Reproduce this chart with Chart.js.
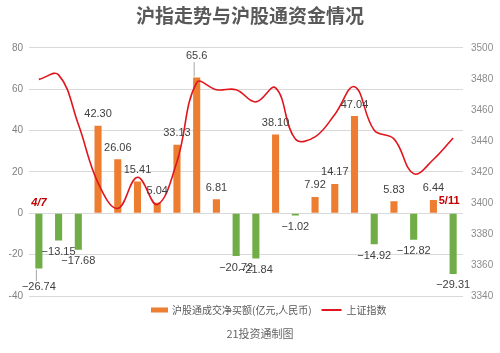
<!DOCTYPE html>
<html>
<head>
<meta charset="utf-8">
<script src="https://cdn.jsdelivr.net/npm/chart.js@4/dist/chart.umd.min.js"></script>
<style>
html, body { margin: 0; padding: 0; background: #fff; }
</style>
</head>
<body>
<canvas id="chart" width="500" height="353"></canvas>
<script>
// trading days, 2021-04-07 .. 2021-05-11
const dates = ['4/7', '4/8', '4/9', '4/12', '4/13', '4/14', '4/15', '4/16', '4/19', '4/20', '4/21',
    '4/22', '4/23', '4/26', '4/27', '4/28', '4/29', '4/30', '5/6', '5/7', '5/10', '5/11'];

// 沪股通成交净买额 (亿元), kept as text so the labels keep their decimals
const netBuyText = ['-26.74', '-13.15', '-17.68', '42.30', '26.06', '15.41', '5.04', '33.13', '65.6', '6.81', '-20.72',
    '-21.84', '38.10', '-1.02', '7.92', '14.17', '47.04', '-14.92', '5.83', '-12.82', '6.44', '-29.31'];
const netBuy = netBuyText.map(Number);

// 上证指数 close
const shIndex = [3479.63, 3482.55, 3450.68, 3412.95, 3396.47, 3416.55, 3398.99, 3426.62, 3477.55, 3472.93, 3472.94,
    3465.11, 3474.17, 3441.17, 3442.61, 3457.07, 3474.90, 3446.86, 3441.28, 3418.87, 3427.99, 3441.85];

const leftRange = [-40, 80];
const rightRange = [3340, 3500];

const seriesNames = ['沪股通成交净买额(亿元,人民币)', '上证指数'];
const footerText = '21投资通制图';

const ORANGE = '#ED7D31';
const GREEN = '#70AD47';
const RED = '#E0161E';
const CJK = "'Noto Sans CJK SC', sans-serif";

// Value labels on the bars, plus the two date marks
const barLabels = {
    id: 'barLabels',
    afterDatasetsDraw(chart) {
        const ctx = chart.ctx;
        const meta = chart.getDatasetMeta(0);
        const zeroY = chart.scales.y.getPixelForValue(0);
        ctx.save();
        ctx.font = "11px 'Liberation Sans', Arial, sans-serif";
        ctx.textAlign = 'center';
        ctx.textBaseline = 'middle';
        meta.data.forEach((bar, i) => {
            const v = netBuy[i];
            const txt = netBuyText[i].replace('-', '\u2212');
            let y = v < 0 ? bar.y + 11.5 : bar.y - 11.5;
            // a couple of labels are pushed away with a leader line
            let lead = 0;
            if (i === 0) lead = 7;
            if (i === 8) lead = -10;
            if (lead) {
                y += lead;
                ctx.strokeStyle = '#a6a6a6';
                ctx.lineWidth = 1;
                ctx.beginPath();
                ctx.moveTo(bar.x - 2.5, v < 0 ? bar.y + 1 : bar.y - 1);
                ctx.lineTo(bar.x - 2.5, v < 0 ? y - 6 : y + 6);
                ctx.stroke();
            }
            ctx.fillStyle = '#404040';
            ctx.fillText(txt, bar.x, y);
        });

        // first and last date
        ctx.fillStyle = '#C00000';
        ctx.font = "italic bold 11px 'Liberation Sans', Arial, sans-serif";
        const first = meta.data[0];
        ctx.fillText(dates[0], first.x, zeroY - 10);
        ctx.font = "bold 11px 'Liberation Sans', Arial, sans-serif";
        const last = meta.data[meta.data.length - 1];
        ctx.fillText(dates[dates.length - 1], last.x - 4, zeroY - 12);
        ctx.restore();
    }
};

// Legend and source line, drawn by hand below the plot
const bottomText = {
    id: 'bottomText',
    afterDraw(chart) {
        const ctx = chart.ctx;
        const y = 310;
        ctx.save();
        ctx.textBaseline = 'middle';
        ctx.textAlign = 'left';
        ctx.font = '10px ' + CJK;
        let x = 151;
        ctx.fillStyle = ORANGE;
        ctx.fillRect(x, y - 2.5, 17, 5);
        x += 21;
        ctx.fillStyle = '#595959';
        ctx.fillText(seriesNames[0], x, y);
        x += ctx.measureText(seriesNames[0]).width + 10;
        ctx.strokeStyle = RED;
        ctx.lineWidth = 2;
        ctx.beginPath();
        ctx.moveTo(x, y);
        ctx.lineTo(x + 20, y);
        ctx.stroke();
        x += 25;
        ctx.fillText(seriesNames[1], x, y);

        ctx.font = '11px ' + CJK;
        ctx.fillStyle = '#666666';
        ctx.textAlign = 'center';
        ctx.fillText(footerText, 260, 334);
        ctx.restore();
    }
};

const ctx = document.getElementById('chart').getContext('2d');
Chart.defaults.font.family = "'Liberation Sans', Arial, 'Noto Sans CJK SC', sans-serif";

new Chart(ctx, {
    type: 'bar',
    data: {
        labels: dates,
        datasets: [{
            type: 'bar',
            label: seriesNames[0],
            data: netBuy,
            backgroundColor: netBuy.map(v => v < 0 ? GREEN : ORANGE),
            barPercentage: 0.8,
            categoryPercentage: 0.45,
            yAxisID: 'y',
            order: 2
        }, {
            type: 'line',
            label: seriesNames[1],
            data: shIndex,
            borderColor: RED,
            backgroundColor: RED,
            borderWidth: 1.6,
            pointRadius: 0,
            tension: 0.4,
            yAxisID: 'y1',
            order: 1
        }]
    },
    options: {
        responsive: false,
        animation: false,
        layout: { padding: { left: 0, right: 0, top: 0, bottom: 57 } },
        plugins: {
            title: {
                display: true,
                text: '沪指走势与沪股通资金情况',
                color: '#595959',
                font: { size: 19, weight: 'bold', family: CJK },
                padding: { top: 4, bottom: 21 }
            },
            legend: { display: false },
            tooltip: { enabled: false }
        },
        scales: {
            x: {
                display: false,
                offset: true
            },
            y: {
                position: 'left',
                min: leftRange[0],
                max: leftRange[1],
                ticks: { stepSize: 20, color: '#7f7f7f', font: { size: 10 }, padding: 6 },
                grid: { color: '#d9d9d9', drawTicks: false },
                border: { display: false },
                afterFit(scale) { scale.width = 29; }
            },
            y1: {
                position: 'right',
                min: rightRange[0],
                max: rightRange[1],
                ticks: { stepSize: 20, color: '#8c8c8c', font: { size: 10 }, padding: 8, callback: v => String(v) },
                grid: { display: false, drawTicks: false },
                border: { display: false },
                afterFit(scale) { scale.width = 37; }
            }
        }
    },
    plugins: [barLabels, bottomText]
});
</script>
</body>
</html>
